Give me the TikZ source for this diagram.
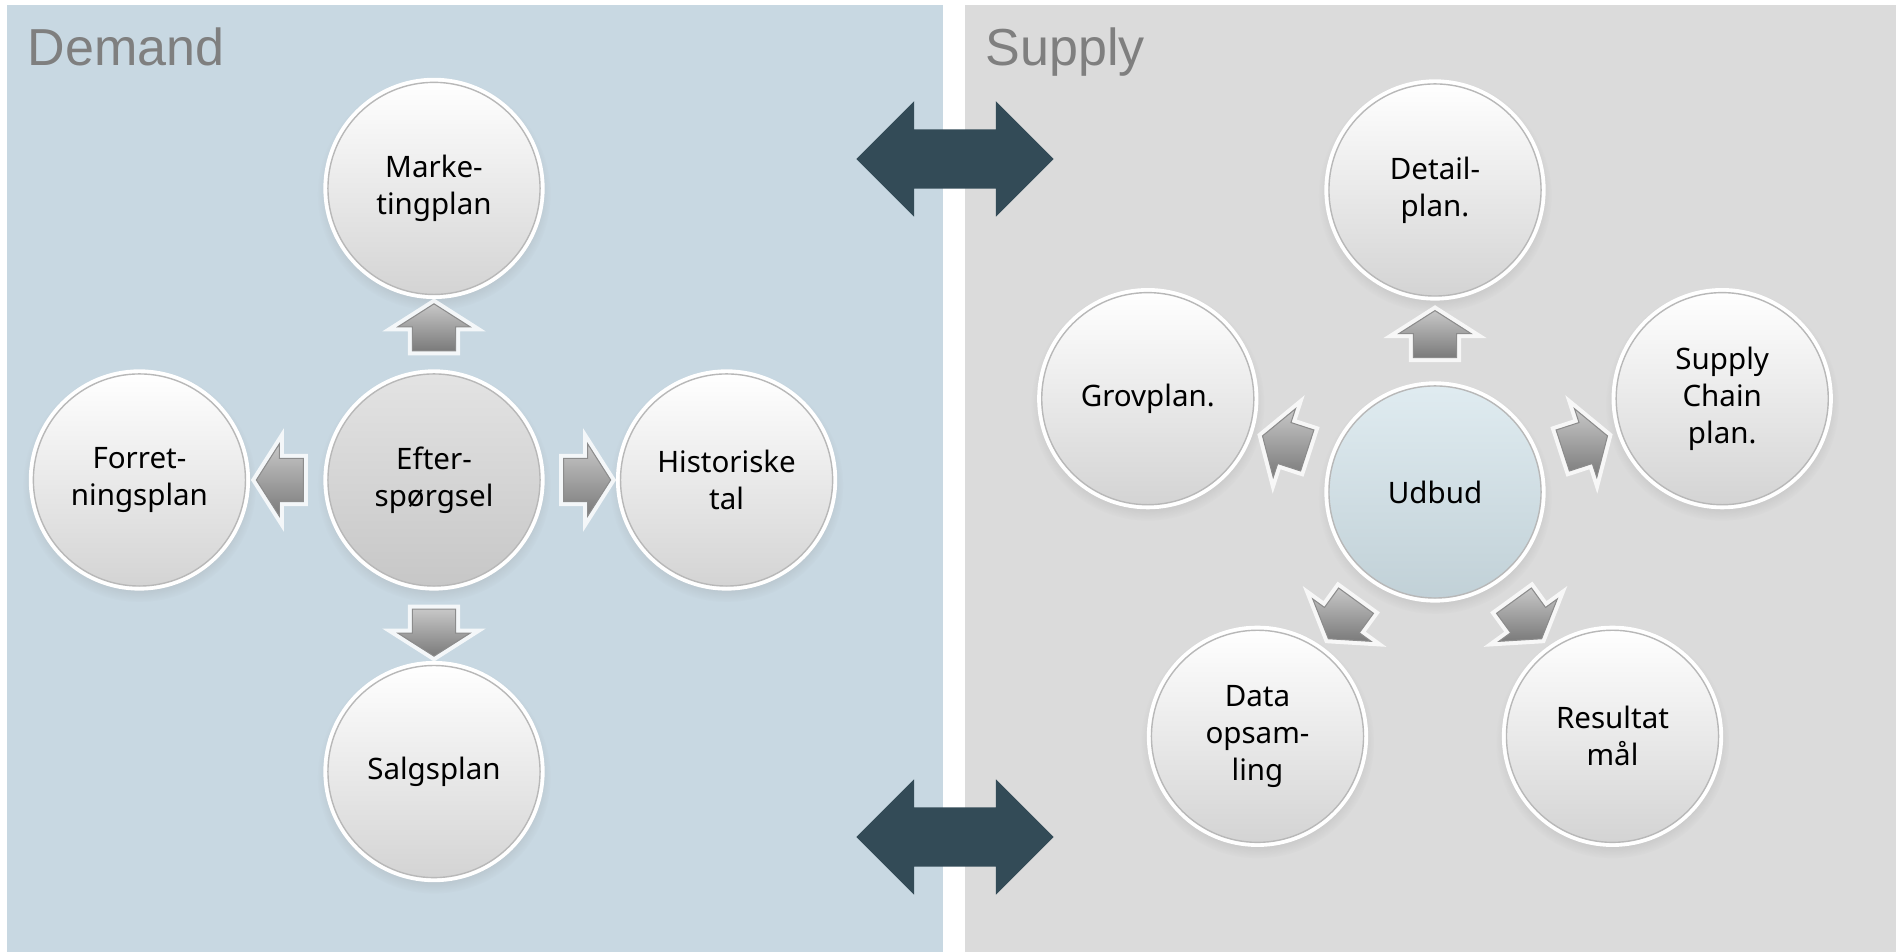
\documentclass[tikz,border=0pt]{standalone}
\usepackage{fontspec}
\setmainfont{Noto Sans}
\newfontfamily\titlefont{Liberation Sans}
\usepackage{xcolor}
\usepackage{tikz}
\usetikzlibrary{positioning, shapes, shapes.arrows, shadows}
\definecolor{demandblue}{RGB}{200,216,226}
\definecolor{supplygrey}{RGB}{219,219,219}
\definecolor{titlegrey}{RGB}{127,127,127}
\definecolor{slate}{RGB}{51,75,87}
\definecolor{udbudblue}{RGB}{210,227,234}

\begin{document}
\begin{tikzpicture}[x=0.01cm, y=0.01cm,
	bubble/.style={circle, minimum size=2.12cm, inner sep=0pt, align=center,
		font=\fontsize{8.4}{10.5}\selectfont,
		circular drop shadow={shadow xshift=0pt, shadow yshift=-1.4pt, opacity=0.25},
		preaction={draw=white, line width=2.6pt},
		top color=white, bottom color=black!17, draw=black!28, line width=0.4pt},
	hub/.style={top color=black!11, bottom color=black!22},
	udbud/.style={top color=udbudblue!70!white, bottom color=udbudblue!92!black},
	flow/.style={sloped, allow upside down, single arrow, inner xsep=0pt, inner ysep=0.21cm,
		minimum height=0.47cm, single arrow head extend=0.145cm, single arrow tip angle=115,
		preaction={draw=white, line width=2.6pt, opacity=0.8},
		shading=axis, top color=black!22, bottom color=black!52,
		draw=black!45, line width=0.3pt},
	link/.style={double arrow, fill=slate, inner xsep=0pt, inner ysep=0.29cm,
		minimum height=1.97cm, double arrow head extend=0.28cm, double arrow tip angle=90},
	heading/.style={anchor=base west, inner sep=0pt, text=titlegrey,
		font=\titlefont\fontsize{14.8}{17}\selectfont}]
	\useasboundingbox (0,0) rectangle (1896,952);
	%% panels
	\fill[demandblue] (7,0) rectangle (943,947);
	\fill[supplygrey] (965,0) rectangle (1896,947);
	\node[heading] (dem) at (27,886) {Demand};
	\node[heading] (sup) at (985,886) {Supply};
	\node[link] (linktop) at (955,793) {};
	\node[link] (linkbot) at (955,115) {};
	%% demand side
	\node[bubble, hub] (eft) at (434,472) {Efter-\\spørgsel};
	\node[bubble, above=0.78cm of eft] (mkt) {Marke-\\tingplan};
	\node[bubble, below=0.78cm of eft] (slg) {Salgsplan};
	\node[bubble, left=0.81cm of eft] (frt) {Forret-\\ningsplan};
	\node[bubble, right=0.79cm of eft] (hist) {Historiske\\tal};
	\foreach \dest in {mkt, slg, frt, hist}
		\path (eft) -- node[flow] {} (\dest);
	%% supply side
	\node[bubble, udbud] (udb) at (1435,460) {Udbud};
	\node[bubble] (det) at ([shift={(90:302)}]udb.center) {Detail-\\plan.};
	\node[bubble] (scp) at ([shift={(18:302)}]udb.center) {Supply\\Chain\\plan.};
	\node[bubble] (res) at ([shift={(-54:302)}]udb.center) {Resultat\\mål};
	\node[bubble] (dat) at ([shift={(-126:302)}]udb.center) {Data\\opsam-\\ling};
	\node[bubble] (grv) at ([shift={(162:302)}]udb.center) {Grovplan.};
	\foreach \dest in {det, scp, res, dat, grv}
		\path (udb) -- node[flow] {} (\dest);
\end{tikzpicture}
\end{document}
